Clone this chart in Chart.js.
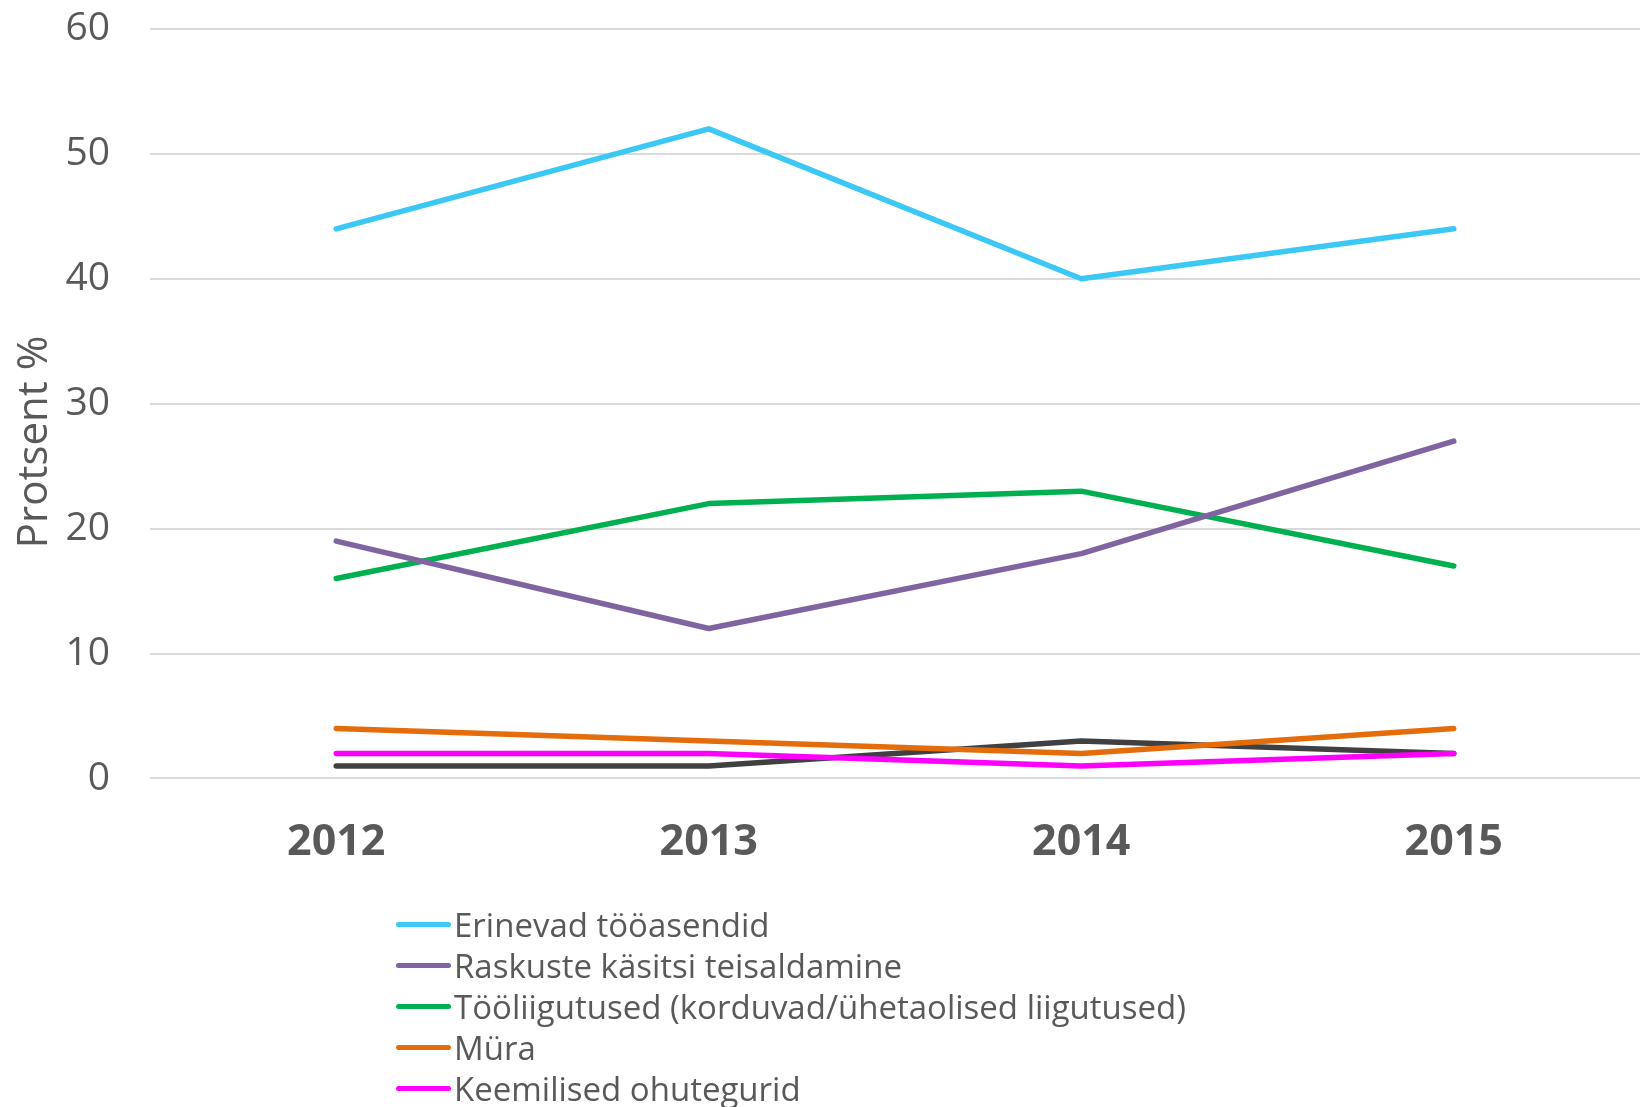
<!DOCTYPE html>
<html lang="et">
<head>
  <meta charset="UTF-8">
  <title>Ohutegurid</title>
  <style>
    *{
      margin: 0;
      padding: 0;
      font-family: "Open Sans", sans-serif;
    }
    body{
      width: 1640px;
      height: 1107px;
      overflow: hidden;
      background: white;
      position: relative;
    }
    .chartBox{
      width: 1640px;
      height: 914px;
    }
    #legend{
      position: absolute;
      left: 396px;
      top: 904px;
    }
    .item{
      display: flex;
      align-items: center;
      height: 41px;
      color: #595959;
      font-size: 33px;
      white-space: nowrap;
    }
    .swatch{
      width: 55px;
      height: 5px;
      border-radius: 3px;
      margin-right: 3px;
    }
  </style>
</head>
<body>
  <div class="chartBox">
    <canvas id="myChart"></canvas>
  </div>
  <div id="legend"></div>
  <script src="https://cdn.jsdelivr.net/npm/chart.js"></script>
  <script>
    const years = ['2012', '2013', '2014', '2015'];
    const seriesNames = [
      'Erinevad tööasendid',
      'Raskuste käsitsi teisaldamine',
      'Tööliigutused (korduvad/ühetaolised liigutused)',
      'Müra',
      'Keemilised ohutegurid',
      'Vibratsioon'
    ];
    const tooasendid = [44, 52, 40, 44];
    const raskused = [19, 12, 18, 27];
    const tooliigutused = [16, 22, 23, 17];
    const mura = [4, 3, 2, 4];
    const keemilised = [2, 2, 1, 2];
    const vibratsioon = [1, 1, 3, 2];
    const yTicks = [0, 10, 20, 30, 40, 50, 60];

    const colors = ['#3CC8F5', '#8064A2', '#00B050', '#E46C0A', '#FF00FF', '#404040'];
    const values = [tooasendid, raskused, tooliigutused, mura, keemilised, vibratsioon];

    const data = {
      labels: years,
      datasets: values.map((v, i) => ({
        label: seriesNames[i],
        data: v,
        borderColor: colors[i],
        backgroundColor: colors[i],
        borderWidth: 5.5,
        borderCapStyle: 'round',
        borderJoinStyle: 'round',
        pointRadius: 0,
        tension: 0
      }))
    };

    const config = {
      type: 'line',
      data,
      options: {
        responsive: true,
        maintainAspectRatio: false,
        animation: false,
        layout: {
          padding: { left: 10, top: 5, right: 0, bottom: 14 }
        },
        plugins: {
          legend: { display: false },
          tooltip: { enabled: false }
        },
        scales: {
          x: {
            offset: true,
            grid: { display: false },
            border: { display: false },
            ticks: {
              color: '#595959',
              padding: 31,
              font: { size: 43, weight: 'bold', family: 'Open Sans' }
            }
          },
          y: {
            min: 0,
            max: 60,
            afterBuildTicks: axis => { axis.ticks = yTicks.map(v => ({ value: v })); },
            // fixed axis width and no extra top/bottom room
            afterFit: axis => {
              axis.width = 140;
              axis.paddingTop = 29;
              axis.paddingBottom = 0;
            },
            grid: { color: '#D9D9D9', lineWidth: 2, drawTicks: false },
            border: { display: false },
            ticks: {
              color: '#595959',
              padding: 40,
              font: { size: 39, family: 'Open Sans' }
            },
            title: {
              display: true,
              text: 'Protsent %       ',
              color: '#595959',
              padding: { top: 0, bottom: 14 },
              font: { size: 42, family: 'Open Sans' }
            }
          }
        }
      }
    };

    const myChart = new Chart(document.getElementById('myChart'), config);

    // legend as a vertical list under the chart
    const legend = document.getElementById('legend');
    seriesNames.forEach((name, i) => {
      const row = document.createElement('div');
      row.className = 'item';
      const sw = document.createElement('span');
      sw.className = 'swatch';
      sw.style.background = colors[i];
      const txt = document.createElement('span');
      txt.textContent = name;
      row.appendChild(sw);
      row.appendChild(txt);
      legend.appendChild(row);
    });
  </script>
</body>
</html>
